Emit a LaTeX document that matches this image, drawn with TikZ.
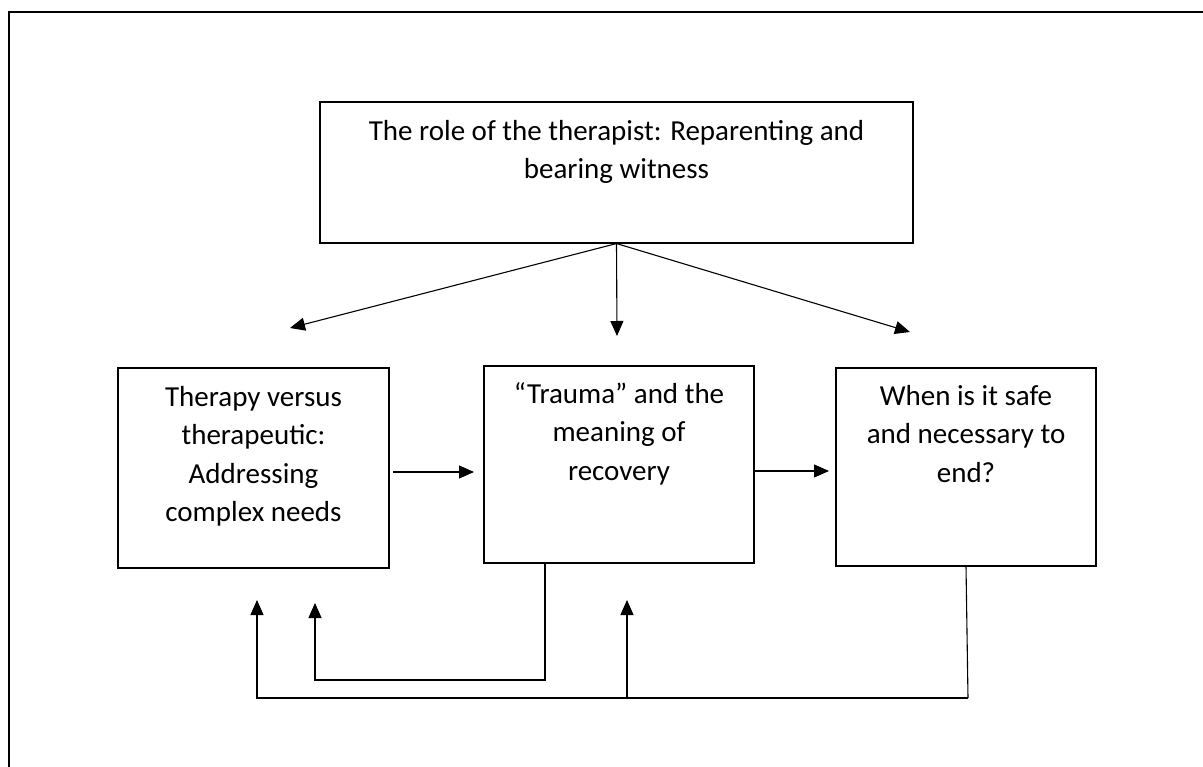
\documentclass[tikz,border=0pt]{standalone}
\usepackage{fontspec}
\setmainfont{Carlito}
\usetikzlibrary{arrows.meta}
\begin{document}
\begin{tikzpicture}[x=1pt,y=-1pt,
  box/.style={draw, line width=1.1pt, inner sep=0pt},
  txt/.style={font=\fontsize{29}{38.5}\selectfont, align=center, inner sep=0pt, anchor=north},
  conn/.style={line width=1.1pt},
  arr/.style={conn, -{Triangle[length=15pt,width=13pt]}}]
\useasboundingbox (0,0) rectangle (1203,767);
\draw[line width=1.8pt] (9,767) -- (9,12) -- (1203,12);
% boxes
\node[box, minimum width=593pt, minimum height=141pt] (T) at (616.5,172.5) {};
\node[txt] (Tt) at (616.5,113) {\strut The role of the therapist: Reparenting and\\bearing witness};
\node[box, minimum width=271pt, minimum height=200pt] (L) at (253.5,468) {};
\node[txt] (Lt) at (253.5,379) {\strut Therapy versus\\therapeutic:\\Addressing\\complex needs};
\node[box, minimum width=270pt, minimum height=197pt] (M) at (619,464.5) {};
\node[txt] (Mt) at (619,376) {\strut “Trauma” and the\\meaning of\\recovery};
\node[box, minimum width=260pt, minimum height=198pt] (R) at (966,467) {};
\node[txt] (Rt) at (966,378) {\strut When is it safe\\and necessary to\\end?};
% free ends
\coordinate (a1) at (290,328);
\coordinate (a2) at (617,336);
\coordinate (a3) at (910,332);
\coordinate (h1s) at (393,472);
\coordinate (h1e) at (474,472);
\coordinate (h2e) at (829,471);
\coordinate (i1) at (545,680);
\coordinate (i2) at (315,680);
\coordinate (i3) at (315,603);
\coordinate (o1) at (968,698);
\coordinate (o2) at (257,698);
\coordinate (o3) at (257,600);
\coordinate (m1) at (627,698);
\coordinate (m2) at (627,600);
% connectors
\draw[arr] (T.south) -- (a1);
\draw[arr] (T.south) -- (a2);
\draw[arr] (T.south) -- (a3);
\draw[arr] (h1s) -- (h1e);
\draw[arr] (M.east |- h2e) -- (h2e);
\draw[arr] (M.south -| i1) -- (i1) -- (i2) -- (i3);
\draw[conn] (966,566) -- (o1);
\draw[arr] (o1) -- (o2) -- (o3);
\draw[arr] (m1) -- (m2);
\end{tikzpicture}
\end{document}
